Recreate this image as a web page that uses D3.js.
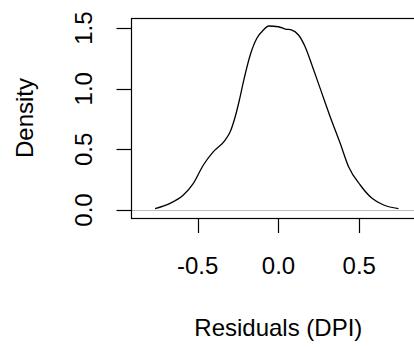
<!DOCTYPE html>
<html>
<head>
<meta charset="utf-8">
<script src="https://cdn.jsdelivr.net/npm/d3@7"></script>
<style>
body { margin: 0; background: #fff; }
text { font-family: "Liberation Sans", Arial, sans-serif; fill: #000; }
</style>
</head>
<body>
<svg width="414" height="347"></svg>
<script>
var svg = d3.select("svg");

// density estimate of residuals
var resid = [-0.764, -0.671, -0.589, -0.527, -0.465, -0.403, -0.330, -0.299, -0.268, -0.242,
  -0.217, -0.175, -0.134, -0.093, -0.062, 0.000, 0.042, 0.083, 0.124, 0.165,
  0.207, 0.258, 0.320, 0.382, 0.434, 0.506, 0.579, 0.651, 0.743];
var dens = [0.012, 0.055, 0.124, 0.220, 0.371, 0.481, 0.577, 0.645, 0.769, 0.907,
  1.058, 1.278, 1.416, 1.484, 1.517, 1.511, 1.492, 1.484, 1.443, 1.346,
  1.195, 1.003, 0.769, 0.550, 0.357, 0.206, 0.096, 0.041, 0.012];
var xTicks = [-0.5, 0.0, 0.5];
var yTicks = [0.0, 0.5, 1.0, 1.5];

var plotL = 131.5, plotT = 18, plotB = 218, plotR = 440;

var x = d3.scaleLinear().domain([-0.91, 1.0]).range([plotL, plotR]);
var y = d3.scaleLinear().domain([-0.066, 1.583]).range([plotB, plotT]);

var data = resid.map(function(d, i) { return {x: d, y: dens[i]}; });

// zero line
svg.append("line")
  .attr("x1", plotL).attr("x2", plotR)
  .attr("y1", Math.round(y(0)) + 0.5).attr("y2", Math.round(y(0)) + 0.5)
  .attr("stroke", "#bebebe").attr("stroke-width", 1);

svg.append("path")
  .datum(data)
  .attr("fill", "none")
  .attr("stroke", "#000")
  .attr("stroke-width", 1.3)
  .attr("d", d3.line()
    .x(function(d) { return x(d.x); })
    .y(function(d) { return y(d.y); })
    .curve(d3.curveMonotoneX));

// box
svg.append("rect")
  .attr("x", plotL).attr("y", plotT + 0.5)
  .attr("width", plotR - plotL).attr("height", plotB - plotT)
  .attr("fill", "none").attr("stroke", "#000").attr("stroke-width", 1.2);

// x axis
var gx = svg.append("g").attr("transform", "translate(0," + plotB + ")");
gx.selectAll("line").data(xTicks).enter().append("line")
  .attr("x1", function(d) { return Math.round(x(d)) + 0.5; })
  .attr("x2", function(d) { return Math.round(x(d)) + 0.5; })
  .attr("y1", 0).attr("y2", 15)
  .attr("stroke", "#000").attr("stroke-width", 1.2);
gx.selectAll("text").data(xTicks).enter().append("text")
  .attr("x", function(d) { return x(d); })
  .attr("y", 56)
  .attr("text-anchor", "middle")
  .attr("font-size", 24)
  .text(function(d) { return d.toFixed(1); });

// y axis
var gy = svg.append("g");
gy.selectAll("line").data(yTicks).enter().append("line")
  .attr("x1", plotL - 15).attr("x2", plotL)
  .attr("y1", function(d) { return Math.round(y(d)) + 0.5; })
  .attr("y2", function(d) { return Math.round(y(d)) + 0.5; })
  .attr("stroke", "#000").attr("stroke-width", 1.2);
gy.selectAll("text").data(yTicks).enter().append("text")
  .attr("transform", function(d) { return "translate(92," + y(d) + ") rotate(-90)"; })
  .attr("text-anchor", "middle")
  .attr("font-size", 24)
  .text(function(d) { return d.toFixed(1); });

// axis titles
svg.append("text")
  .attr("x", (197.7 + 359) / 2)
  .attr("y", 336)
  .attr("text-anchor", "middle")
  .attr("font-size", 24)
  .text("Residuals (DPI)");

svg.append("text")
  .attr("transform", "translate(33," + (plotT + plotB) / 2 + ") rotate(-90)")
  .attr("text-anchor", "middle")
  .attr("font-size", 24)
  .text("Density");
</script>
</body>
</html>
